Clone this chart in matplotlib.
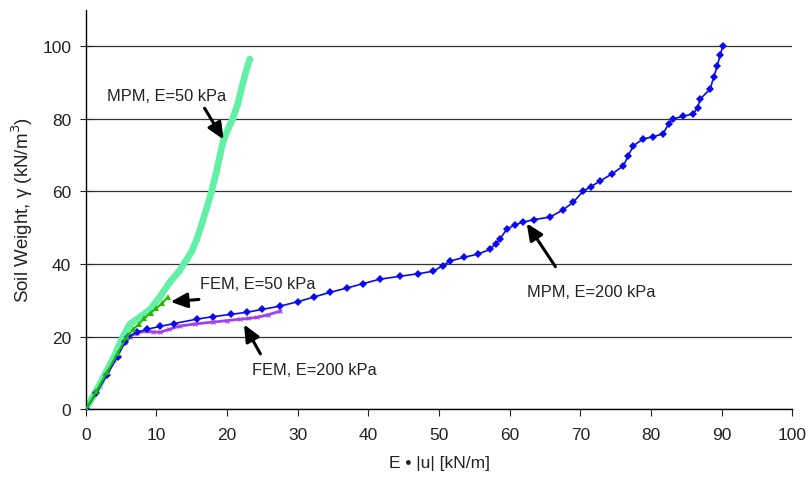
import matplotlib.pyplot as plt

plt.rcParams["font.family"] = ["Liberation Sans", "DejaVu Sans"]

# MPM, E=50 kPa
mpm50_x = [0, 1.0, 2.0, 3.0, 4.0, 5.2, 6.2, 7.5, 9.1, 10.5, 11.9, 13.2, 14.3, 15.0, 15.7,
           16.5, 17.2, 17.8, 18.5, 19.4, 20.1, 20.8, 21.5, 22.0, 22.6, 23.2]
mpm50_y = [0, 3.5, 7.0, 10.8, 14.5, 19.8, 23.4, 25.2, 27.5, 31.0, 35.0, 38.0, 41.3, 43.5, 46.8,
           51.5, 56.0, 60.0, 65.5, 73.5, 77.0, 80.0, 84.0, 88.0, 92.5, 96.4]

# FEM, E=50 kPa
fem50_x = [0, 1.5, 3.0, 4.5, 5.8, 6.7, 7.5, 8.3, 9.2, 10.0, 10.8, 11.6]
fem50_y = [0, 5.0, 10.2, 15.5, 20.0, 22.0, 23.5, 25.0, 26.6, 27.8, 29.2, 30.8]

# MPM, E=200 kPa
mpm200_x = [0, 1.5, 3.0, 4.5, 5.5, 6.0, 7.2, 8.6, 10.5, 12.5, 15.7, 18.0, 20.5, 22.8, 25.0,
            27.5, 30.0, 32.3, 34.6, 37.0, 39.3, 41.6, 44.5, 47.0, 49.2, 50.5, 51.6, 53.5,
            55.5, 57.2, 58.0, 58.6, 59.6, 60.8, 61.9, 63.5, 65.7, 67.5, 69.0, 70.4, 71.5,
            72.8, 74.5, 76.1, 76.8, 77.5, 78.9, 80.3, 81.7, 82.5, 83.1, 84.5, 86.0, 86.6,
            87.0, 88.4, 88.9, 89.4, 89.8, 90.2]
mpm200_y = [0, 4.5, 9.5, 14.5, 18.5, 20.0, 21.2, 22.0, 22.8, 23.6, 24.8, 25.5, 26.1, 26.7, 27.5,
            28.4, 29.6, 30.9, 32.2, 33.4, 34.6, 35.8, 36.6, 37.3, 38.0, 39.5, 40.8, 41.8,
            42.7, 44.0, 45.5, 46.8, 49.6, 50.8, 51.5, 52.2, 52.9, 54.8, 57.0, 60.0, 61.3,
            62.8, 64.8, 67.0, 69.8, 72.5, 74.4, 75.0, 75.8, 78.5, 79.9, 80.6, 81.3, 83.0,
            85.4, 88.2, 91.5, 94.5, 97.5, 100.0]

# FEM, E=200 kPa
fem200_x = [0, 2.0, 4.0, 5.5, 6.2, 7.2, 8.6, 9.5, 10.5, 11.8, 13.3, 15.5, 18.0, 20.0, 21.8,
            23.0, 24.2, 25.8, 27.5]
fem200_y = [0, 6.5, 13.5, 18.5, 20.0, 21.0, 21.5, 21.3, 21.2, 22.0, 22.9, 23.5, 24.0, 24.4,
            24.8, 25.0, 25.3, 26.0, 27.0]

# (label, text baseline position, arrow tail, arrow head) in data coords
notes = [
    ("MPM, E=50 kPa", (3.0, 85.1), (16.6, 83.5), (19.7, 73.6)),
    ("FEM, E=50 kPa", (16.1, 33.5), (16.4, 30.3), (11.6, 29.5)),
    ("FEM, E=200 kPa", (23.5, 9.6), (24.9, 14.6), (22.2, 24.0)),
    ("MPM, E=200 kPa", (62.5, 31.1), (66.7, 38.6), (62.2, 51.8)),
]

fig = plt.figure(figsize=(8.1, 4.81), dpi=100)
ax = fig.add_axes([0.106, 0.147, 0.872, 0.831])

ax.plot(mpm200_x, mpm200_y, color="#0a0aee", lw=1.2, marker="D", ms=3.8,
        markeredgewidth=0, zorder=3)
ax.plot(fem200_x, fem200_y, color="#a040f0", lw=2.0, marker="x", ms=3,
        markeredgewidth=0.8, zorder=2)
ax.plot(mpm50_x, mpm50_y, color="#62f0a6", lw=4.8, marker="o", ms=4,
        markeredgewidth=0, solid_capstyle="round", zorder=2)
ax.plot(fem50_x, fem50_y, color="#22bb00", lw=1.5, marker="^", ms=4,
        markeredgewidth=0, zorder=4)

for text, pos, tail, head in notes:
    ax.annotate("", xy=head, xytext=tail,
                arrowprops=dict(arrowstyle="-|>,head_length=1.0,head_width=0.45",
                                color="black", lw=2.2), zorder=5)
    ax.text(pos[0], pos[1], text, fontsize=11.8, color="#222222",
            va="baseline", ha="left")

ax.set_xlim(0, 100)
ax.set_ylim(0, 110)
ax.set_xticks(range(0, 101, 10))
ax.set_yticks(range(0, 101, 20))
ax.yaxis.grid(True, color="#333333", lw=0.9)
ax.set_axisbelow(True)
for side in ("top", "right"):
    ax.spines[side].set_visible(False)
ax.spines["left"].set_linewidth(1.0)
ax.spines["bottom"].set_linewidth(1.0)
ax.tick_params(labelsize=12.5, colors="#222222")
ax.tick_params(axis="x", direction="out", length=5, pad=8)
ax.tick_params(axis="y", direction="inout", length=9, pad=6)

ax.set_xlabel("E • |u| [kN/m]", fontsize=12.5, color="#222222", labelpad=9)
ax.set_ylabel("Soil Weight, γ (kN/m$^3$)", fontsize=13.5, color="#222222", labelpad=5)

fig.savefig("out.png", dpi=100)
